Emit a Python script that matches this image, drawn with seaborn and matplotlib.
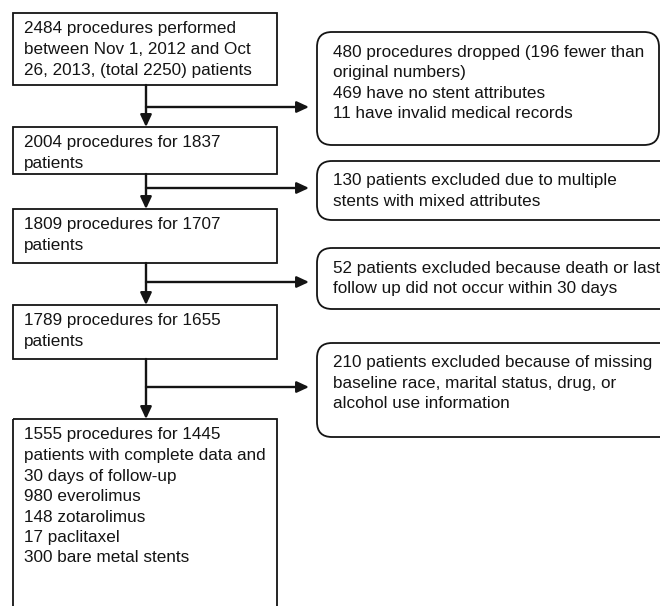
import matplotlib
matplotlib.use("Agg")
import matplotlib.pyplot as plt
from matplotlib.patches import FancyBboxPatch, Rectangle
import seaborn as sns

# ------------------ Flowchart content ------------------
main_steps = [
    ["2484 procedures performed", "between Nov 1, 2012 and Oct", "26, 2013, (total 2250) patients"],
    ["2004 procedures for 1837", "patients"],
    ["1809 procedures for 1707", "patients"],
    ["1789 procedures for 1655", "patients"],
    ["1555 procedures for 1445", "patients with complete data and", "30 days of follow-up",
     "980 everolimus", "148 zotarolimus", "17 paclitaxel", "300 bare metal stents"],
]

exclusions = [
    ["480 procedures dropped (196 fewer than", "original numbers)",
     "469 have no stent attributes", "11 have invalid medical records"],
    ["130 patients excluded due to multiple", "stents with mixed attributes"],
    ["52 patients excluded because death or last", "follow up did not occur within 30 days"],
    ["210 patients excluded because of missing", "baseline race, marital status, drug, or",
     "alcohol use information"],
]

# ------------------ Layout (pixels, origin top-left) ------------------
main_x = (13, 277)
main_y = [(13, 85), (127, 174), (209, 263), (305, 359), (419, 630)]
side_left = 317
side_right = [659, 675, 675, 675]   # lower boxes run off the page edge
side_y = [(32, 145), (161, 220), (248, 309), (343, 437)]
branch_y = [107, 188, 282, 387]
spine_x = 146
arrow_tip_x = 309
line_step = 20.5

sns.set_theme(style="white")
plt.rcParams["font.family"] = ["Liberation Sans", "DejaVu Sans"]

fig = plt.figure(figsize=(6.6, 6.06), dpi=100)
ax = fig.add_axes([0, 0, 1, 1])
ax.set_xlim(0, 660)
ax.set_ylim(606, 0)
ax.axis("off")

ink = "#141414"
arrow_style = "-|>,head_length=0.6,head_width=0.28"


def write_lines(x, y, lines):
    for i, line in enumerate(lines):
        ax.text(x, y + i * line_step, line, fontsize=12.3, color=ink,
                ha="left", va="top")


# main column boxes
for (top, bottom), lines in zip(main_y, main_steps):
    ax.add_patch(Rectangle((main_x[0], top), main_x[1] - main_x[0], bottom - top,
                           fill=False, lw=1.3, ec=ink))
    write_lines(main_x[0] + 11, top + 8.5, lines)

# exclusion boxes (rounded)
for (top, bottom), right, lines in zip(side_y, side_right, exclusions):
    ax.add_patch(FancyBboxPatch((side_left, top), right - side_left, bottom - top,
                                boxstyle="round,pad=0,rounding_size=15",
                                fill=False, lw=1.3, ec=ink, clip_on=True))
    write_lines(side_left + 16, top + 12.5, lines)

# vertical arrows between main boxes
for (_, b0), (t1, _) in zip(main_y[:-1], main_y[1:]):
    ax.annotate("", xy=(spine_x, t1), xytext=(spine_x, b0),
                arrowprops=dict(arrowstyle=arrow_style, mutation_scale=12,
                                lw=1.7, color=ink, shrinkA=0, shrinkB=0))

# side arrows to exclusion boxes
for y in branch_y:
    ax.annotate("", xy=(arrow_tip_x, y), xytext=(spine_x, y),
                arrowprops=dict(arrowstyle=arrow_style, mutation_scale=12,
                                lw=1.7, color=ink, shrinkA=0, shrinkB=0))

fig.savefig("out.png", dpi=100, facecolor="white")
